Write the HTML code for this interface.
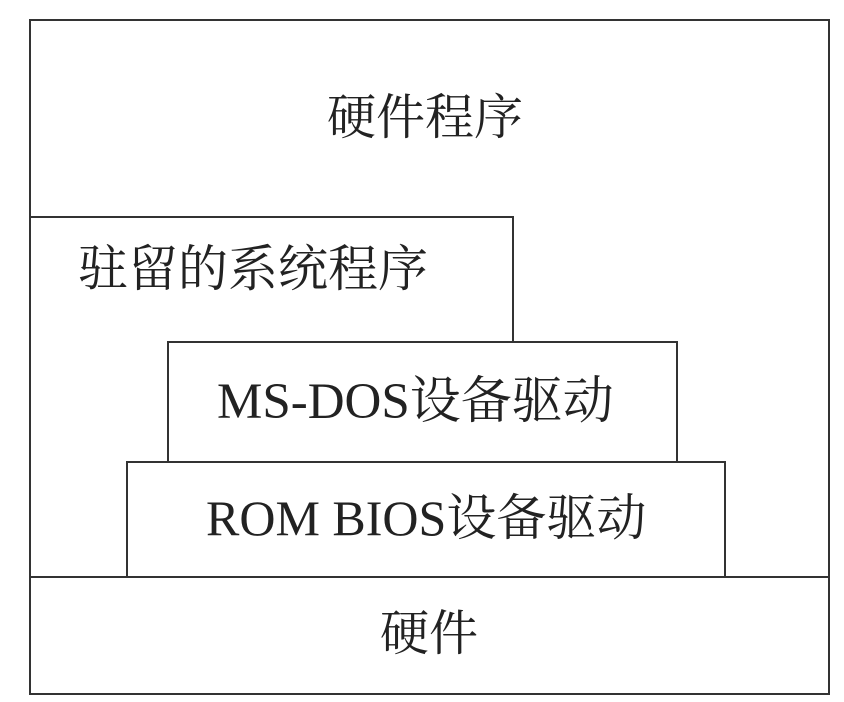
<!DOCTYPE html>
<html><head><meta charset="utf-8"><style>
html,body{margin:0;padding:0;background:#fff;}
body{width:844px;height:702px;position:relative;overflow:hidden;font-family:"Liberation Serif","Noto Serif CJK SC",serif;color:#222;}
.b{position:absolute;border:2px solid #333;box-sizing:border-box;background:#fff;}
.t{position:absolute;white-space:nowrap;line-height:1;}
</style></head><body>
<div class="b" style="left:29px;top:19px;width:801px;height:676px;"></div>
<div class="b" style="left:29px;top:216px;width:485px;height:250px;border-left:none;border-bottom:none;"></div>
<div class="b" style="left:167px;top:341px;width:511px;height:124px;"></div>
<div class="b" style="left:126px;top:461px;width:600px;height:118px;"></div>
<div class="b" style="left:29px;top:576px;width:801px;height:119px;"></div>
<div class="b" style="left:29px;top:19px;width:801px;height:676px;background:transparent;"></div>
<div class="t" style="left:327px;top:93px;font-size:49px;">硬件程序</div>
<div class="t" style="left:78px;top:244px;font-size:50px;">驻留的系统程序</div>
<div class="t" style="left:217px;top:377px;font-size:51px;">MS-DOS设备驱动</div>
<div class="t" style="left:206px;top:493px;font-size:50px;">ROM BIOS设备驱动</div>
<div class="t" style="left:380px;top:609px;font-size:49px;">硬件</div>
</body></html>
